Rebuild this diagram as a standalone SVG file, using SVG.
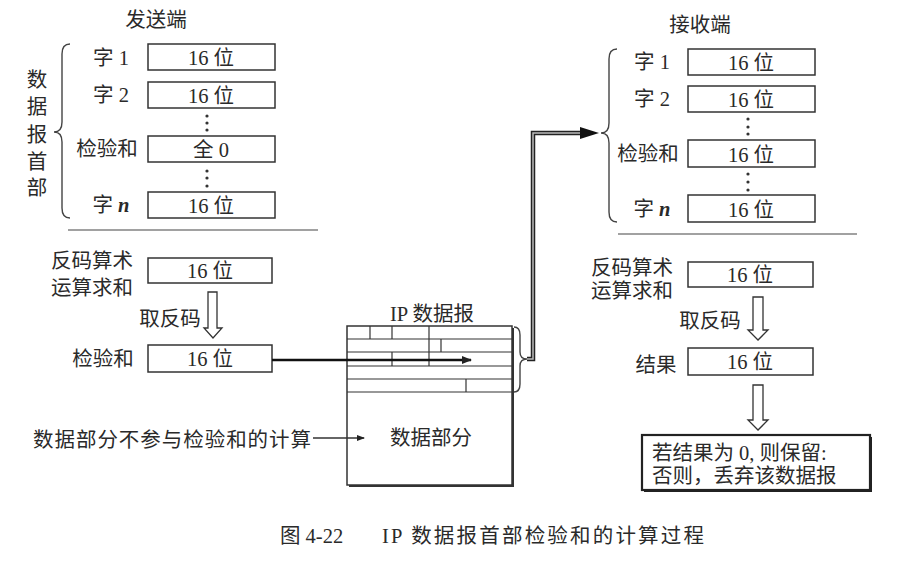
<svg xmlns="http://www.w3.org/2000/svg" width="918" height="572" viewBox="0 0 918 572">
<style>
text{font-family:"Liberation Serif","Noto Sans CJK SC",serif;fill:#2a2a2a;font-size:20.5px}
.m{text-anchor:middle}
.box{fill:#fff;stroke:#333;stroke-width:1.5}
.thin{fill:none;stroke:#333;stroke-width:1.2}
.brace{fill:none;stroke:#444;stroke-width:1.4}
.hollow{fill:#fff;stroke:#333;stroke-width:1.3;stroke-linejoin:miter}
.dot{fill:#333}
</style>
<defs>
<marker id="ah" markerWidth="10" markerHeight="8" refX="9" refY="4" orient="auto" markerUnits="userSpaceOnUse">
<path d="M0,0 L10,4 L0,8 Z" fill="#222"/>
</marker>
<marker id="ahs" markerWidth="8" markerHeight="6" refX="7" refY="3" orient="auto" markerUnits="userSpaceOnUse">
<path d="M0,0 L8,3 L0,6 Z" fill="#222"/>
</marker>
</defs>

<g id="sender">
<text class="m" x="156" y="27">发送端</text>
<g id="sender-header-label">
<text class="m" x="37" y="87">数</text>
<text class="m" x="37" y="114">据</text>
<text class="m" x="37" y="142">报</text>
<text class="m" x="37" y="169">首</text>
<text class="m" x="37" y="195">部</text>
</g>
<path class="brace" d="M70,44 Q62,44 62,54 L62,122 Q62,132 54,132 Q62,132 62,142 L62,208 Q62,218 70,218"/>
<g id="s-word1"><text class="m" x="111" y="65">字 1</text><rect class="box" x="148" y="44" width="127" height="26"/><text class="m" x="211" y="65">16 位</text></g>
<g id="s-word2"><text class="m" x="111" y="102">字 2</text><rect class="box" x="148" y="82" width="127" height="26"/><text class="m" x="211" y="103">16 位</text></g>
<g id="s-dots1"><circle class="dot" cx="207" cy="116" r="1.6"/><circle class="dot" cx="207" cy="123" r="1.6"/><circle class="dot" cx="207" cy="130" r="1.6"/></g>
<g id="s-checksum"><text class="m" x="107" y="156">检验和</text><rect class="box" x="148" y="136" width="127" height="26"/><text class="m" x="211" y="157">全 0</text></g>
<g id="s-dots2"><circle class="dot" cx="207" cy="171" r="1.6"/><circle class="dot" cx="207" cy="178" r="1.6"/><circle class="dot" cx="207" cy="186" r="1.6"/></g>
<g id="s-wordn"><text class="m" x="111" y="212">字 <tspan font-style="italic" font-weight="bold">n</tspan></text><rect class="box" x="148" y="192" width="127" height="26"/><text class="m" x="211" y="213">16 位</text></g>
<line x1="68" y1="230" x2="318" y2="230" stroke="#444" stroke-width="1.2"/>
<g id="s-sum"><text class="m" x="92" y="268">反码算术</text><text class="m" x="92" y="295">运算求和</text><rect class="box" x="148" y="258" width="124" height="25"/><text class="m" x="210" y="278">16 位</text></g>
<g id="s-invert"><text class="m" x="170" y="326">取反码</text><path class="hollow" d="M208,292 L217,292 L217,328 L222,328 L213,338 L204,328 L208,328 Z"/></g>
<g id="s-result"><text class="m" x="103" y="366">检验和</text><rect class="box" x="148" y="345" width="124" height="27"/><text class="m" x="210" y="366">16 位</text></g>
<text x="33" y="447" font-size="21.5" textLength="278" lengthAdjust="spacing">数据部分不参与检验和的计算</text>
</g>

<g id="ip-datagram">
<text class="m" x="432" y="321">IP 数据报</text>
<rect x="349" y="328" width="165" height="159" fill="#333"/>
<rect x="347" y="326" width="165" height="159" fill="#fff" stroke="#333" stroke-width="1.5"/>
<g class="thin">
<line x1="347" y1="339" x2="512" y2="339"/>
<line x1="347" y1="352" x2="512" y2="352"/>
<line x1="347" y1="366" x2="512" y2="366"/>
<line x1="347" y1="379" x2="512" y2="379"/>
<line x1="347" y1="392" x2="512" y2="392"/>
<line x1="370" y1="326" x2="370" y2="339"/>
<line x1="392" y1="326" x2="392" y2="339"/>
<line x1="429" y1="326" x2="429" y2="366"/>
<line x1="441" y1="339" x2="441" y2="352"/>
<line x1="392" y1="352" x2="392" y2="366"/>
<line x1="466" y1="379" x2="466" y2="392"/>
</g>
<text class="m" x="431" y="445">数据部分</text>
<path class="brace" d="M514,327 Q520,327 520,335 L520,352 Q520,359 527,359 Q520,359 520,366 L520,384 Q520,392 514,392"/>
</g>

<g id="receiver">
<text class="m" x="700" y="32">接收端</text>
<path class="brace" d="M617,49 Q609,49 609,59 L609,123 Q609,133 601,133 Q609,133 609,143 L609,212 Q609,222 617,222"/>
<g id="r-word1"><text class="m" x="652" y="69">字 1</text><rect class="box" x="688" y="49" width="127" height="26"/><text class="m" x="751" y="70">16 位</text></g>
<g id="r-word2"><text class="m" x="652" y="106">字 2</text><rect class="box" x="688" y="86" width="127" height="26"/><text class="m" x="751" y="107">16 位</text></g>
<g id="r-dots1"><circle class="dot" cx="748" cy="119" r="1.6"/><circle class="dot" cx="748" cy="127" r="1.6"/><circle class="dot" cx="748" cy="134" r="1.6"/></g>
<g id="r-checksum"><text class="m" x="648" y="161">检验和</text><rect class="box" x="688" y="140" width="127" height="27"/><text class="m" x="751" y="162">16 位</text></g>
<g id="r-dots2"><circle class="dot" cx="748" cy="174" r="1.6"/><circle class="dot" cx="748" cy="182" r="1.6"/><circle class="dot" cx="748" cy="190" r="1.6"/></g>
<g id="r-wordn"><text class="m" x="652" y="216">字 <tspan font-style="italic" font-weight="bold">n</tspan></text><rect class="box" x="688" y="195" width="127" height="27"/><text class="m" x="751" y="217">16 位</text></g>
<line x1="618" y1="234" x2="857" y2="234" stroke="#444" stroke-width="1.2"/>
<g id="r-sum"><text class="m" x="632" y="275">反码算术</text><text class="m" x="632" y="298">运算求和</text><rect class="box" x="688" y="262" width="125" height="25"/><text class="m" x="750" y="282">16 位</text></g>
<g id="r-invert"><text class="m" x="710" y="328">取反码</text><path class="hollow" d="M753,297 L763,297 L763,330 L768,330 L758,340 L748,330 L753,330 Z"/></g>
<g id="r-result"><text class="m" x="656" y="372">结果</text><rect class="box" x="688" y="348" width="125" height="27"/><text class="m" x="750" y="369">16 位</text></g>
<path class="hollow" d="M753,385 L763,385 L763,420 L768,420 L758,430 L748,420 L753,420 Z"/>
<g id="r-decision">
<rect x="644" y="437" width="228" height="55" fill="#222"/>
<rect x="642" y="435" width="228" height="55" fill="#fff" stroke="#222" stroke-width="2.2"/>
<text x="652" y="460">若结果为 0, 则保留:</text>
<text x="652" y="483">否则，丢弃该数据报</text>
</g>
</g>

<g id="connectors">
<line x1="272" y1="360" x2="471" y2="360" stroke="#111" stroke-width="2.5" marker-end="url(#ah)"/>
<line x1="313" y1="438" x2="364" y2="438" stroke="#333" stroke-width="1.3" marker-end="url(#ahs)"/>
<path d="M527,359 L533,359 L533,133 L582,133" fill="none" stroke="#222" stroke-width="4.5" stroke-linejoin="miter"/>
<path d="M527,359 L533,359 L533,133 L582,133" fill="none" stroke="#bbb" stroke-width="1.5" stroke-linejoin="miter"/>
<path d="M599,133 L580,127 L580,139 Z" fill="#111"/>
</g>

<g id="caption">
<text x="280" y="543" font-size="23">图 4-22</text>
<text x="382" y="543" font-size="23" textLength="322" lengthAdjust="spacing">IP 数据报首部检验和的计算过程</text>
</g>
</svg>
